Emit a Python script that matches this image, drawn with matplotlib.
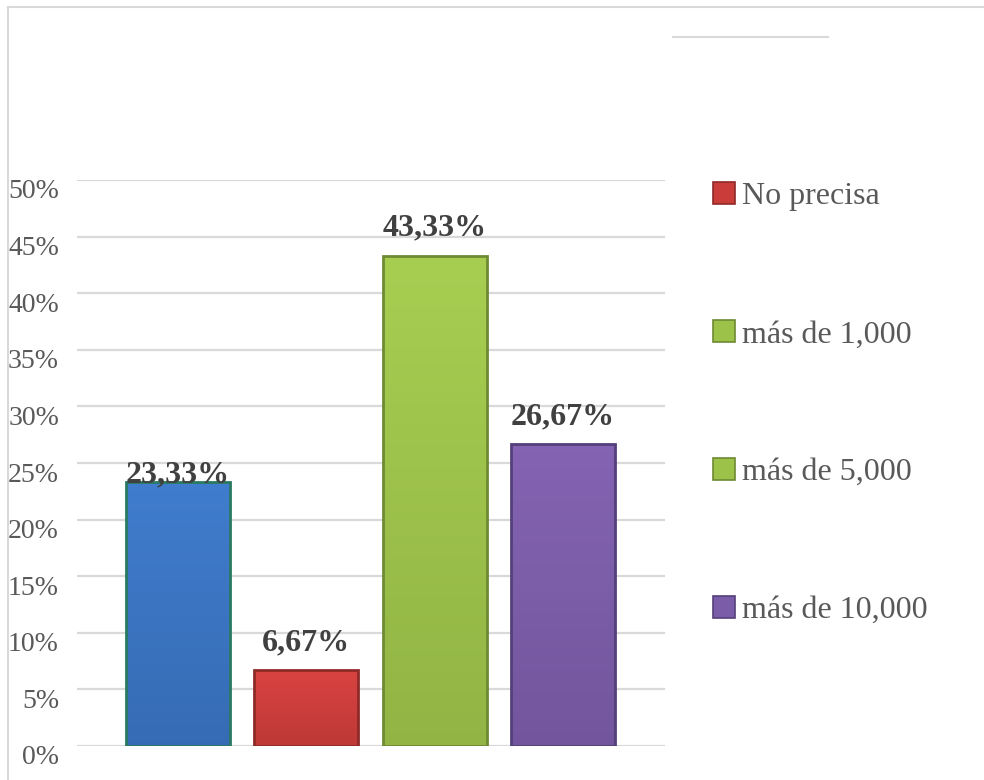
import matplotlib
matplotlib.use("Agg")
import matplotlib.pyplot as plt
import numpy as np
from matplotlib.patches import Patch
from matplotlib.lines import Line2D
from matplotlib.colors import to_rgb
import matplotlib.transforms as mtransforms

categories = ["Sin dato", "No precisa", "más de 1,000", "más de 10,000"]
values = [23.33, 6.67, 43.33, 26.67]
value_labels = ["23,33%", "6,67%", "43,33%", "26,67%"]
yticks = [0, 5, 10, 15, 20, 25, 30, 35, 40, 45, 50]
ytick_labels = ["0%", "5%", "10%", "15%", "20%", "25%", "30%", "35%", "40%", "45%", "50%"]
legend_labels = ["No precisa", "más de 1,000", "más de 5,000", "más de 10,000"]

bar_colors = ["#3A74C2", "#CC3D3B", "#9DC24A", "#7B5CA8"]
edge_colors = ["#2A7A62", "#8E2A28", "#6E8A33", "#54407A"]
legend_colors = ["#C93C3A", "#9DC24A", "#9DC24A", "#7B5CA8"]
legend_edges = ["#8E2A28", "#6E8A33", "#6E8A33", "#54407A"]
label_offsets = [0.6, 2.4, 2.4, 2.4]

plt.rcParams["font.family"] = ["Liberation Serif", "DejaVu Serif"]
TEXT = "#595959"
GRID = "#D9D9D9"

fig = plt.figure(figsize=(9.84, 7.8), dpi=100)
ax = fig.add_axes([77/984, 1-746/780, (665-77)/984, (746-180)/780])

x = list(range(len(values)))
bars = ax.bar(x, values, width=0.81, color=bar_colors, edgecolor=edge_colors, linewidth=2, zorder=3)

# subtle vertical shading inside each bar
for b, c in zip(bars, bar_colors):
    base = np.array(to_rgb(c))
    top = np.clip(base * 1.04 + 0.015, 0, 1)
    bot = base * 0.93
    t = np.linspace(0, 1, 64)[:, None]
    grad = (top[None, :] * (1 - t) + bot[None, :] * t)[:, None, :]
    x0, y0 = b.get_x(), b.get_y()
    w, h = b.get_width(), b.get_height()
    im = ax.imshow(grad, extent=[x0, x0 + w, y0, y0 + h], origin="upper",
                   aspect="auto", zorder=3.5, interpolation="bilinear")
    im.set_clip_path(b)
    b.set_facecolor("none")
    b.set_zorder(3.6)

for xi, v, lab, off in zip(x, values, value_labels, label_offsets):
    ax.text(xi, v + off, lab, ha="center", va="center", fontsize=23,
            fontweight="bold", color="#404040", zorder=4)

ax.set_xlim(-0.786, 3.794)
ax.set_ylim(0, 50)
ax.set_yticks(yticks)
ax.set_yticklabels(ytick_labels, fontsize=20, color=TEXT)
ax.set_xticks([])
ax.tick_params(axis="y", length=0, pad=13)
off = mtransforms.ScaledTranslation(0, -9/100, fig.dpi_scale_trans)
for t in ax.get_yticklabels():
    t.set_transform(t.get_transform() + off)
ax.yaxis.grid(True, color=GRID, linewidth=1.6, zorder=0)
for s in ax.spines.values():
    s.set_visible(False)

handles = [Patch(facecolor=c, edgecolor=e, linewidth=1.2) for c, e in zip(legend_colors, legend_edges)]
leg = fig.legend(handles, legend_labels, loc="upper left",
                 bbox_to_anchor=(713/984, 1-182/780), frameon=False,
                 fontsize=23, labelspacing=3.4, handlelength=0.7, handleheight=0.7,
                 handletextpad=0.22, borderaxespad=0, borderpad=0)
for t in leg.get_texts():
    t.set_color(TEXT)

# decorative frame (top/left) and stray legend line
fig.add_artist(Line2D([8/984, 1], [1-7/780, 1-7/780], color=GRID, linewidth=1.5, transform=fig.transFigure))
fig.add_artist(Line2D([8/984, 8/984], [0, 1-7/780], color=GRID, linewidth=1.5, transform=fig.transFigure))
fig.add_artist(Line2D([673/984, 828/984], [1-37/780, 1-37/780], color=GRID, linewidth=1.5, transform=fig.transFigure))

fig.savefig("out.png", dpi=100, facecolor="white")
